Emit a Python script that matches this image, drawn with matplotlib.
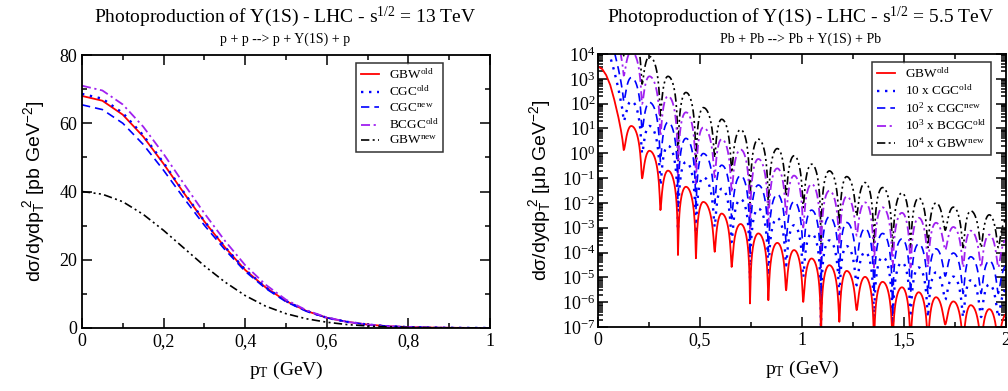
import numpy as np
import matplotlib
matplotlib.use('Agg')
import matplotlib.pyplot as plt
from matplotlib.ticker import FixedLocator, MultipleLocator, LogLocator, NullFormatter

plt.rcParams['font.family'] = ['Liberation Serif', 'DejaVu Serif']
plt.rcParams['mathtext.fontset'] = 'custom'
plt.rcParams['mathtext.rm'] = 'Liberation Serif'
plt.rcParams['mathtext.it'] = 'Liberation Serif:italic'
plt.rcParams['mathtext.sf'] = 'Liberation Sans'

# ---------------- left panel: p + p, 13 TeV (pb GeV^-2) ----------------
pt_pp = [0.0, 0.05, 0.1, 0.15, 0.2, 0.25, 0.3, 0.35, 0.4, 0.45, 0.5,
         0.55, 0.6, 0.65, 0.7, 0.75, 0.8, 0.85, 0.9, 0.95, 1.0]
gbw_old_pp = [68.0, 66.6, 62.5, 56.1, 48.1, 39.5, 31.2, 23.7, 17.0, 11.9, 7.9,
              5.0, 3.0, 1.8, 1.0, 0.52, 0.27, 0.13, 0.06, 0.03, 0.01]
cgc_old_pp = [68.6, 67.2, 63.0, 56.5, 48.4, 39.7, 31.3, 23.8, 17.1, 11.9, 7.9,
              5.0, 3.0, 1.8, 1.0, 0.52, 0.27, 0.13, 0.06, 0.03, 0.01]
cgc_new_pp = [65.4, 64.0, 60.0, 53.8, 46.2, 38.0, 30.1, 23.0, 16.6, 11.6, 7.7,
              4.9, 3.0, 1.8, 1.0, 0.52, 0.27, 0.13, 0.06, 0.03, 0.01]
bcgc_old_pp = [71.0, 69.6, 65.5, 59.0, 51.0, 42.2, 33.6, 25.6, 18.4, 12.7, 8.3,
               5.2, 3.1, 1.8, 1.0, 0.52, 0.27, 0.13, 0.06, 0.03, 0.01]
gbw_new_pp = [40.0, 39.2, 37.0, 33.3, 28.6, 23.4, 18.2, 13.5, 9.5, 6.4, 4.2,
              2.7, 1.7, 1.0, 0.6, 0.33, 0.18, 0.09, 0.04, 0.02, 0.01]

# ---------------- right panel: Pb + Pb, 5.5 TeV (log10 of ub GeV^-2) ----------------
# central lobe
pt_c = [0.0, 0.02, 0.04, 0.06, 0.08, 0.10, 0.112, 0.12]
lc_gbw_old = [3.49, 3.40, 3.15, 2.75, 2.15, 1.45, 0.95, 0.55]
lc_cgc_old = [4.55, 4.48, 4.25, 3.88, 3.30, 2.60, 2.10, 1.75]
lc_cgc_new = [5.44, 5.35, 5.10, 4.70, 4.10, 3.40, 2.90, 2.50]
lc_bcgc_old = [6.51, 6.42, 6.17, 5.77, 5.17, 4.47, 3.97, 3.57]
lc_gbw_new = [7.26, 7.17, 6.92, 6.52, 5.92, 5.22, 4.72, 4.32]

# diffraction minima and the maxima between them
pt_dips = [0.126, 0.216, 0.306, 0.392, 0.480, 0.572, 0.655, 0.745, 0.835, 0.922, 1.006,
           1.093, 1.183, 1.268, 1.353, 1.444, 1.532, 1.617, 1.702, 1.790, 1.878, 1.962]
pt_peaks = [0.163, 0.252, 0.343, 0.431, 0.516, 0.606, 0.699, 0.786, 0.879, 0.961, 1.047,
            1.134, 1.219, 1.309, 1.395, 1.490, 1.572, 1.657, 1.742, 1.827, 1.918, 2.006]

ld_gbw_old = [0.13, -1.01, -2.29, -4.10, -4.23, -3.97, -4.58, -6.05, -5.92, -5.52, -5.99,
              -7.6, -6.79, -6.32, -7.6, -7.6, -7.6, -7.6, -6.9, -7.6, -7.6, -7.6]
lp_gbw_old = [1.10, 0.10, -0.70, -1.35, -1.96, -2.43, -2.85, -3.23, -3.61, -3.90, -4.24,
              -4.51, -4.74, -4.98, -5.18, -5.40, -5.60, -5.80, -5.97, -6.12, -6.28, -6.45]

ld_cgc_old = [1.30, -0.01, -1.29, -3.10, -3.23, -2.97, -3.58, -5.05, -4.92, -4.52, -4.99,
              -7.6, -5.79, -5.32, -6.6, -7.6, -6.6, -6.6, -5.9, -6.6, -6.6, -6.6]
lp_cgc_old = [2.10, 1.10, 0.30, -0.35, -0.96, -1.43, -1.85, -2.23, -2.61, -2.90, -3.24,
              -3.51, -3.74, -3.98, -4.18, -4.40, -4.60, -4.80, -4.97, -5.12, -5.28, -5.45]

ld_cgc_new = [2.08, 0.94, -0.34, -2.15, -2.28, -2.02, -2.63, -4.10, -3.97, -3.57, -4.04,
              -7.6, -4.84, -4.37, -5.65, -7.6, -5.65, -5.65, -4.95, -5.65, -5.65, -5.65]
lp_cgc_new = [3.05, 2.05, 1.25, 0.60, -0.01, -0.48, -0.90, -1.28, -1.66, -1.95, -2.29,
              -2.56, -2.79, -3.03, -3.23, -3.45, -3.65, -3.85, -4.02, -4.17, -4.33, -4.50]

ld_bcgc_old = [3.13, 1.99, 0.71, -1.10, -1.23, -0.97, -1.58, -3.05, -2.92, -2.52, -2.99,
               -4.6, -3.79, -3.32, -4.6, -4.6, -4.6, -4.6, -3.9, -4.6, -4.6, -4.6]
lp_bcgc_old = [4.10, 3.10, 2.30, 1.65, 1.04, 0.57, 0.15, -0.23, -0.61, -0.90, -1.24,
               -1.51, -1.74, -1.98, -2.18, -2.40, -2.60, -2.80, -2.97, -3.12, -3.28, -3.45]

ld_gbw_new = [3.93, 2.79, 1.51, -0.30, -0.43, -0.17, -0.78, -2.25, -2.12, -1.72, -2.19,
              -3.8, -2.99, -2.52, -3.8, -3.8, -3.8, -3.8, -3.1, -3.8, -3.8, -3.8]
lp_gbw_new = [4.90, 3.90, 3.10, 2.45, 1.84, 1.37, 0.95, 0.57, 0.19, -0.10, -0.44,
              -0.71, -0.94, -1.18, -1.38, -1.60, -1.80, -2.00, -2.17, -2.32, -2.48, -2.65]

labels_pp = [r'GBW$^{\rm old}$', r'CGC$^{\rm old}$', r'CGC$^{\rm new}$',
             r'BCGC$^{\rm old}$', r'GBW$^{\rm new}$']
labels_pb = [r'GBW$^{\rm old}$', r'10 x CGC$^{\rm old}$', r'10$^{2}$ x CGC$^{\rm new}$',
             r'10$^{3}$ x BCGC$^{\rm old}$', r'10$^{4}$ x GBW$^{\rm new}$']

colors = ['#ff0000', '#0000ff', '#0000ff', '#a020f0', '#000000']
styles = ['-', (0, (1, 2.4)), (0, (5, 3)), (0, (5, 2, 1.2, 2)), (0, (5, 2, 1.2, 2, 1.2, 2))]
widths = [1.3, 1.7, 1.2, 1.3, 1.2]


def lobes(xc, lc, xd, ld, xp, lp, n=30):
    # join the read maxima and minima with rounded arches (sharp at the minima)
    xs = list(xc) + [xd[0]]
    vs = list(lc) + [ld[0]]
    s = np.linspace(0, 1, n)[1:]
    for i in range(len(xp)):
        eps = 10.0 ** (ld[i] - lp[i])
        xs += list(xd[i] + s * (xp[i] - xd[i]))
        vs += list(lp[i] + np.log10(np.sin(np.pi / 2 * s) ** 2 * (1 - eps) + eps))
        if i + 1 < len(xd):
            eps = 10.0 ** (ld[i + 1] - lp[i])
            xs += list(xp[i] + s * (xd[i + 1] - xp[i]))
            vs += list(lp[i] + np.log10(np.sin(np.pi / 2 * (1 - s)) ** 2 * (1 - eps) + eps))
    return np.array(xs), 10.0 ** np.array(vs)


fig = plt.figure(figsize=(10.08, 3.91), dpi=100)
ax1 = fig.add_axes([82 / 1008, 63 / 391, 408 / 1008, 273 / 391])
ax2 = fig.add_axes([598 / 1008, 64 / 391, 408 / 1008, 273 / 391])

for ys, lab, c, ls, lw in zip([gbw_old_pp, cgc_old_pp, cgc_new_pp, bcgc_old_pp, gbw_new_pp],
                              labels_pp, colors, styles, widths):
    ax1.plot(pt_pp, ys, color=c, linestyle=ls, linewidth=lw, label=lab)

curves = [(lc_gbw_old, ld_gbw_old, lp_gbw_old), (lc_cgc_old, ld_cgc_old, lp_cgc_old),
          (lc_cgc_new, ld_cgc_new, lp_cgc_new), (lc_bcgc_old, ld_bcgc_old, lp_bcgc_old),
          (lc_gbw_new, ld_gbw_new, lp_gbw_new)]
order = [4, 3, 2, 1, 0]
lines = {}
for k in order:
    lc, ld, lp = curves[k]
    x, y = lobes(pt_c, lc, pt_dips, ld, pt_peaks, lp)
    lines[k], = ax2.plot(x, y, color=colors[k], linestyle=styles[k], linewidth=widths[k],
                         label=labels_pb[k])

# axes styling (xmgrace look)
for ax in (ax1, ax2):
    for sp in ax.spines.values():
        sp.set_linewidth(1.3)
    ax.tick_params(which='both', direction='in', top=True, right=True, labelsize=13, width=1.1)
    ax.tick_params(which='major', length=7)
    ax.tick_params(which='minor', length=3.5)

ax1.set_xlim(0, 1)
ax1.set_ylim(0, 80)
ax1.xaxis.set_major_locator(FixedLocator([0, 0.2, 0.4, 0.6, 0.8, 1.0]))
ax1.set_xticklabels(['0', '0,2', '0,4', '0,6', '0,8', '1'])
ax1.xaxis.set_minor_locator(MultipleLocator(0.1))
ax1.yaxis.set_major_locator(MultipleLocator(20))
ax1.yaxis.set_minor_locator(MultipleLocator(10))

ax2.set_yscale('log')
ax2.set_xlim(0, 2)
ax2.set_ylim(1e-7, 1e4)
ax2.xaxis.set_major_locator(FixedLocator([0, 0.5, 1, 1.5, 2]))
ax2.set_xticklabels(['0', '0,5', '1', '1,5', '2'])
ax2.xaxis.set_minor_locator(MultipleLocator(0.25))
ydec = list(range(-7, 5))
ax2.yaxis.set_major_locator(FixedLocator([10.0 ** d for d in ydec]))
ax2.set_yticklabels([r'$10^{%d}$' % d for d in ydec])
ax2.yaxis.set_minor_locator(LogLocator(base=10, subs=np.arange(2, 10), numticks=20))
ax2.yaxis.set_minor_formatter(NullFormatter())
ax2.tick_params(axis='y', which='major', pad=2)

leg_kw = dict(loc='upper left', bbox_to_anchor=(0.672, 0.971), frameon=True, fancybox=False,
              edgecolor='black', fontsize=9.5, handlelength=1.4, labelspacing=0.22,
              borderpad=0.35, handletextpad=0.7, borderaxespad=0)
l1 = ax1.legend(**leg_kw)
h2 = [lines[k] for k in range(5)]
l2 = ax2.legend(handles=h2, **leg_kw)
for lg in (l1, l2):
    lg.get_frame().set_linewidth(1.1)

# titles and axis labels
fig.text(285 / 1008, 1 - 17 / 391, r'Photoproduction of Y(1S) - LHC - s$^{1/2}$ = 13 TeV',
         ha='center', va='center', fontsize=14)
fig.text(285 / 1008, 1 - 39 / 391, 'p + p --> p + Y(1S) + p', ha='center', va='center', fontsize=10)
fig.text(801 / 1008, 1 - 17 / 391, r'Photoproduction of Y(1S) - LHC - s$^{1/2}$ = 5.5 TeV',
         ha='center', va='center', fontsize=14)
fig.text(801 / 1008, 1 - 39 / 391, 'Pb + Pb --> Pb + Y(1S) + Pb', ha='center', va='center', fontsize=10)

ax1.set_xlabel(r'p$_{\rm T}$ (GeV)', fontsize=14, labelpad=7)
ax2.set_xlabel(r'p$_{\rm T}$ (GeV)', fontsize=14, labelpad=7)
ax1.set_ylabel(r'd$\mathsf{\sigma}$/dydp$_{\mathsf{T}}^{\mathsf{\ 2}}$ [pb GeV$^{\mathsf{-2}}$]',
               fontsize=14, family='Liberation Sans', labelpad=8)
ax2.set_ylabel(r'd$\mathsf{\sigma}$/dydp$_{\mathsf{T}}^{\mathsf{\ 2}}$ [$\mathsf{\mu}$b GeV$^{\mathsf{-2}}$]',
               fontsize=14, family='Liberation Sans', labelpad=6)

fig.savefig('out.png', dpi=100)
